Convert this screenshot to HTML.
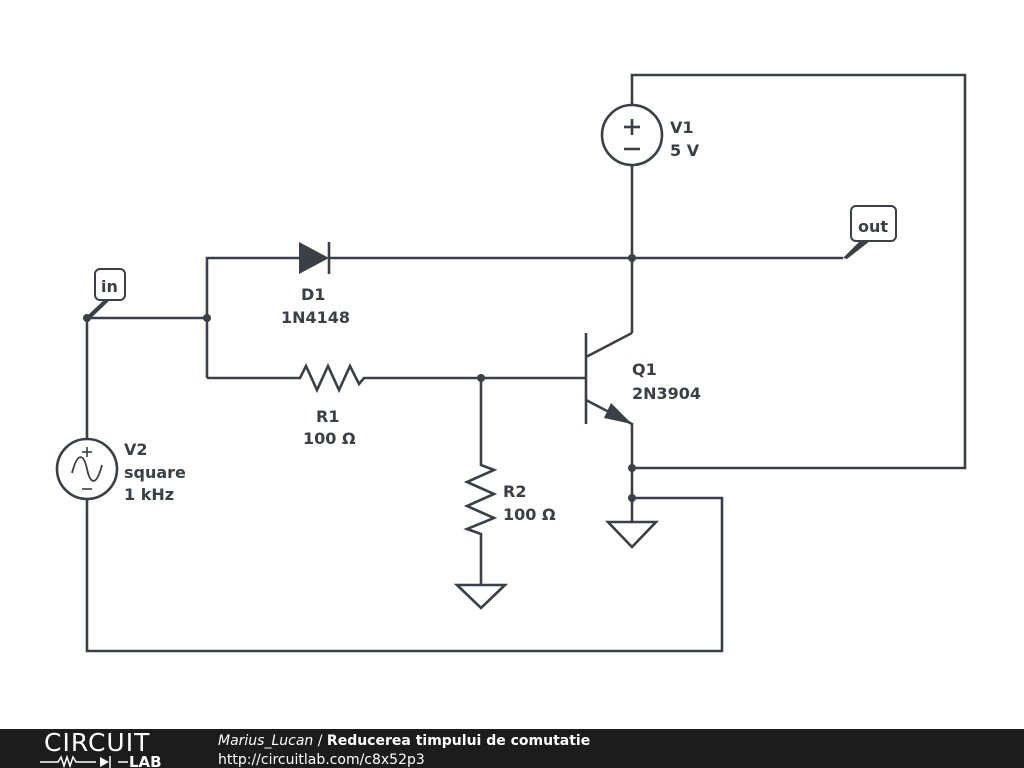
<!DOCTYPE html>
<html><head><meta charset="utf-8"><style>
html,body{margin:0;padding:0;background:#fff;}
svg{display:block;}
text{font-family:"DejaVu Sans","Liberation Sans",sans-serif;font-weight:bold;fill:#3a4045;font-size:16px;}
</style></head><body>
<svg width="1024" height="768" viewBox="0 0 1024 768" xmlns="http://www.w3.org/2000/svg">
<g stroke="#3a4045" stroke-width="2.6" fill="none" stroke-linejoin="miter">
<polyline points="632,105 632,75 965,75 965,468 632,468"/>
<line x1="632" y1="165" x2="632" y2="333"/>
<circle cx="632" cy="135" r="30"/>
<line x1="624" y1="127" x2="640" y2="127"/><line x1="632" y1="119" x2="632" y2="135"/>
<line x1="624" y1="149" x2="640" y2="149"/>
<polyline points="207,378 207,258 299,258"/>
<line x1="329" y1="258" x2="843" y2="258"/>
<line x1="329" y1="242" x2="329" y2="274"/>
<polyline points="87,439 87,318 207,318"/>
<polyline points="207,378 295,378 300,378 306,366 317,390 328,366 339,390 350,366 359,384 364,378 586,378"/>
<polyline points="481,378 481,465 494,470 467,482 494,494 467,506 494,518 467,529 481,534 481,585"/>
<polygon points="457,585 505,585 481,608"/>
<line x1="586" y1="333" x2="586" y2="424"/>
<polyline points="586,357 632,333"/>
<polyline points="586,400 632,424 632,522"/>
<polygon points="608,522 656,522 632,547"/>
<polyline points="632,498 722,498 722,651 87,651 87,499"/>
<circle cx="87" cy="469" r="30"/>
<line x1="82" y1="452" x2="92" y2="452" stroke-width="1.6"/><line x1="87" y1="447" x2="87" y2="457" stroke-width="1.6"/>
<line x1="82" y1="489" x2="92" y2="489" stroke-width="1.6"/>
<path d="M72,473 C78,450 84,455 87,469 C90,483 96,488 102,465" stroke-width="1.8"/>
<rect x="95" y="269" width="30" height="31" rx="5" ry="5" stroke-width="2"/>
<rect x="851" y="206" width="45" height="35" rx="5" ry="5" stroke-width="2"/>
</g>
<g fill="#3a4045">
<polygon points="299,242 299,274 329,258"/>
<polygon points="632,424 611,403 604,418"/>
<polygon points="86,317 89,320 110,300 104,300"/>
<polygon points="843,258 847,259 870,241 860,241"/>
<circle cx="87" cy="318" r="4"/><circle cx="207" cy="318" r="4"/>
<circle cx="481" cy="378" r="4"/><circle cx="632" cy="258" r="4"/>
<circle cx="632" cy="468" r="4"/><circle cx="632" cy="498" r="4"/>
</g>
<text x="101" y="292">in</text>
<text x="858" y="232">out</text>
<text x="301" y="300">D1</text><text x="281" y="323">1N4148</text>
<text x="316" y="422">R1</text><text x="303" y="444">100 Ω</text>
<text x="503" y="497">R2</text><text x="503" y="520">100 Ω</text>
<text x="632" y="375">Q1</text><text x="632" y="399">2N3904</text>
<text x="670" y="133">V1</text><text x="670" y="156">5 V</text>
<text x="124" y="455">V2</text><text x="124" y="478">square</text><text x="124" y="500">1 kHz</text>
<rect x="0" y="729" width="1024" height="39" fill="#1c1c1c"/>
<text x="44" y="751" style="font-weight:normal;fill:#fff;font-size:25px;letter-spacing:1px">CIRCUIT</text>
<g stroke="#fff" stroke-width="1.5" fill="none"><polyline points="40,762 58,762 61,757 64,766 67,757 70,766 73,757 76,762 96,762"/><line x1="118" y1="762" x2="128" y2="762"/><line x1="110" y1="756" x2="110" y2="768"/></g>
<polygon points="100,757 100,767 109,762" fill="#fff"/>
<text x="129" y="767" style="fill:#fff;font-size:15px">LAB</text>
<text x="218" y="745" style="fill:#fff;font-size:14px;font-weight:normal;font-style:italic">Marius_Lucan <tspan font-style="normal">/</tspan> <tspan font-weight="bold" font-style="normal">Reducerea timpului de comutatie</tspan></text>
<text x="218" y="764" style="fill:#fff;font-size:14px;font-weight:normal">http://circuitlab.com/c8x52p3</text>
</svg>
</body></html>
